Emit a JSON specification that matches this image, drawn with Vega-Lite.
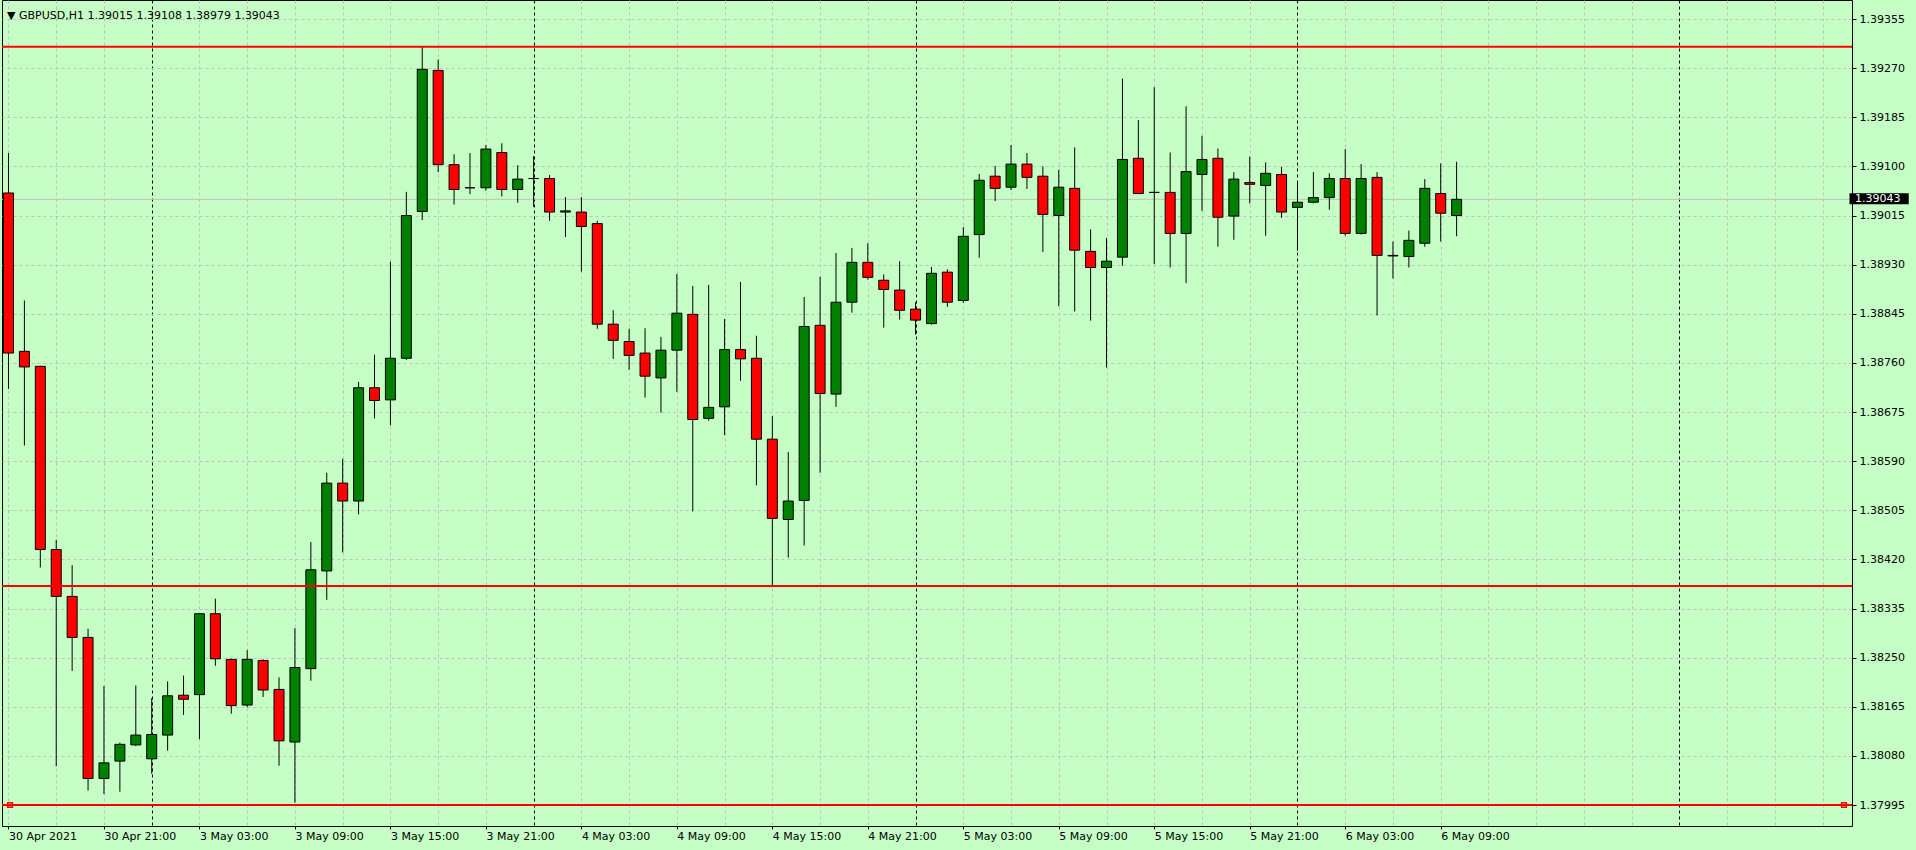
{
  "$schema": "https://vega.github.io/schema/vega-lite/v6.json",
  "width": 1850,
  "height": 826,
  "autosize": {"type": "none"},
  "padding": {"left": 2, "top": 0, "right": 64, "bottom": 24},
  "background": "#c6ffc6",
  "config": {
    "view": {"stroke": "#000000", "strokeWidth": 1, "fill": "#c6ffc6"},
    "font": "DejaVu Sans"
  },
  "title": {
    "text": "▼  GBPUSD,H1  1.39015 1.39108 1.38979 1.39043",
    "anchor": "start",
    "orient": "top",
    "frame": "group",
    "offset": -17,
    "dy": 13,
    "baseline": "alphabetic",
    "dx": 5,
    "font": "DejaVu Sans",
    "fontSize": 11,
    "fontWeight": "normal",
    "color": "#000000"
  },
  "resolve": {"axis": {"x": "independent", "y": "independent"}},
  "datasets": {
    "bars": [
      {"t": "2021.04.30 15:00", "i": 0, "o": 1.39054, "h": 1.39123, "l": 1.38715, "c": 1.38777},
      {"t": "2021.04.30 16:00", "i": 1, "o": 1.38780, "h": 1.38868, "l": 1.38617, "c": 1.38753},
      {"t": "2021.04.30 17:00", "i": 2, "o": 1.38754, "h": 1.38755, "l": 1.38406, "c": 1.38437},
      {"t": "2021.04.30 18:00", "i": 3, "o": 1.38437, "h": 1.38454, "l": 1.38062, "c": 1.38356},
      {"t": "2021.04.30 19:00", "i": 4, "o": 1.38356, "h": 1.38410, "l": 1.38227, "c": 1.38285},
      {"t": "2021.04.30 20:00", "i": 5, "o": 1.38285, "h": 1.38300, "l": 1.38020, "c": 1.38041},
      {"t": "2021.04.30 21:00", "i": 6, "o": 1.38041, "h": 1.38201, "l": 1.38014, "c": 1.38068},
      {"t": "2021.04.30 22:00", "i": 7, "o": 1.38071, "h": 1.38103, "l": 1.38018, "c": 1.38100},
      {"t": "2021.04.30 23:00", "i": 8, "o": 1.38099, "h": 1.38202, "l": 1.38097, "c": 1.38116},
      {"t": "2021.05.03 00:00", "i": 9, "o": 1.38075, "h": 1.38180, "l": 1.38049, "c": 1.38117},
      {"t": "2021.05.03 01:00", "i": 10, "o": 1.38116, "h": 1.38209, "l": 1.38089, "c": 1.38184},
      {"t": "2021.05.03 02:00", "i": 11, "o": 1.38185, "h": 1.38219, "l": 1.38151, "c": 1.38178},
      {"t": "2021.05.03 03:00", "i": 12, "o": 1.38186, "h": 1.38327, "l": 1.38109, "c": 1.38326},
      {"t": "2021.05.03 04:00", "i": 13, "o": 1.38326, "h": 1.38352, "l": 1.38236, "c": 1.38248},
      {"t": "2021.05.03 05:00", "i": 14, "o": 1.38247, "h": 1.38248, "l": 1.38153, "c": 1.38167},
      {"t": "2021.05.03 06:00", "i": 15, "o": 1.38168, "h": 1.38263, "l": 1.38164, "c": 1.38247},
      {"t": "2021.05.03 07:00", "i": 16, "o": 1.38245, "h": 1.38247, "l": 1.38182, "c": 1.38194},
      {"t": "2021.05.03 08:00", "i": 17, "o": 1.38195, "h": 1.38216, "l": 1.38063, "c": 1.38106},
      {"t": "2021.05.03 09:00", "i": 18, "o": 1.38104, "h": 1.38301, "l": 1.37999, "c": 1.38233},
      {"t": "2021.05.03 10:00", "i": 19, "o": 1.38231, "h": 1.38450, "l": 1.38210, "c": 1.38402},
      {"t": "2021.05.03 11:00", "i": 20, "o": 1.38400, "h": 1.38570, "l": 1.38350, "c": 1.38552},
      {"t": "2021.05.03 12:00", "i": 21, "o": 1.38552, "h": 1.38594, "l": 1.38432, "c": 1.38521},
      {"t": "2021.05.03 13:00", "i": 22, "o": 1.38521, "h": 1.38727, "l": 1.38498, "c": 1.38717},
      {"t": "2021.05.03 14:00", "i": 23, "o": 1.38717, "h": 1.38774, "l": 1.38664, "c": 1.38695},
      {"t": "2021.05.03 15:00", "i": 24, "o": 1.38696, "h": 1.38935, "l": 1.38652, "c": 1.38768},
      {"t": "2021.05.03 16:00", "i": 25, "o": 1.38768, "h": 1.39056, "l": 1.38765, "c": 1.39015},
      {"t": "2021.05.03 17:00", "i": 26, "o": 1.39022, "h": 1.39308, "l": 1.39007, "c": 1.39268},
      {"t": "2021.05.03 18:00", "i": 27, "o": 1.39266, "h": 1.39285, "l": 1.39090, "c": 1.39103},
      {"t": "2021.05.03 19:00", "i": 28, "o": 1.39103, "h": 1.39121, "l": 1.39034, "c": 1.39060},
      {"t": "2021.05.03 20:00", "i": 29, "o": 1.39063, "h": 1.39123, "l": 1.39052, "c": 1.39063},
      {"t": "2021.05.03 21:00", "i": 30, "o": 1.39063, "h": 1.39137, "l": 1.39058, "c": 1.39130},
      {"t": "2021.05.03 22:00", "i": 31, "o": 1.39124, "h": 1.39140, "l": 1.39048, "c": 1.39060},
      {"t": "2021.05.03 23:00", "i": 32, "o": 1.39060, "h": 1.39102, "l": 1.39037, "c": 1.39078},
      {"t": "2021.05.04 00:00", "i": 33, "o": 1.39079, "h": 1.39118, "l": 1.39030, "c": 1.39079},
      {"t": "2021.05.04 01:00", "i": 34, "o": 1.39079, "h": 1.39085, "l": 1.39006, "c": 1.39021},
      {"t": "2021.05.04 02:00", "i": 35, "o": 1.39021, "h": 1.39047, "l": 1.38978, "c": 1.39023},
      {"t": "2021.05.04 03:00", "i": 36, "o": 1.39021, "h": 1.39047, "l": 1.38918, "c": 1.38996},
      {"t": "2021.05.04 04:00", "i": 37, "o": 1.39001, "h": 1.39006, "l": 1.38819, "c": 1.38827},
      {"t": "2021.05.04 05:00", "i": 38, "o": 1.38827, "h": 1.38851, "l": 1.38767, "c": 1.38799},
      {"t": "2021.05.04 06:00", "i": 39, "o": 1.38797, "h": 1.38819, "l": 1.38748, "c": 1.38773},
      {"t": "2021.05.04 07:00", "i": 40, "o": 1.38777, "h": 1.38820, "l": 1.38700, "c": 1.38737},
      {"t": "2021.05.04 08:00", "i": 41, "o": 1.38734, "h": 1.38805, "l": 1.38674, "c": 1.38782},
      {"t": "2021.05.04 09:00", "i": 42, "o": 1.38782, "h": 1.38914, "l": 1.38710, "c": 1.38846},
      {"t": "2021.05.04 10:00", "i": 43, "o": 1.38844, "h": 1.38893, "l": 1.38503, "c": 1.38662},
      {"t": "2021.05.04 11:00", "i": 44, "o": 1.38664, "h": 1.38895, "l": 1.38660, "c": 1.38683},
      {"t": "2021.05.04 12:00", "i": 45, "o": 1.38684, "h": 1.38836, "l": 1.38635, "c": 1.38783},
      {"t": "2021.05.04 13:00", "i": 46, "o": 1.38783, "h": 1.38900, "l": 1.38729, "c": 1.38767},
      {"t": "2021.05.04 14:00", "i": 47, "o": 1.38768, "h": 1.38807, "l": 1.38548, "c": 1.38628},
      {"t": "2021.05.04 15:00", "i": 48, "o": 1.38628, "h": 1.38668, "l": 1.38372, "c": 1.38491},
      {"t": "2021.05.04 16:00", "i": 49, "o": 1.38489, "h": 1.38606, "l": 1.38423, "c": 1.38521},
      {"t": "2021.05.04 17:00", "i": 50, "o": 1.38522, "h": 1.38874, "l": 1.38444, "c": 1.38823},
      {"t": "2021.05.04 18:00", "i": 51, "o": 1.38825, "h": 1.38909, "l": 1.38570, "c": 1.38707},
      {"t": "2021.05.04 19:00", "i": 52, "o": 1.38706, "h": 1.38950, "l": 1.38684, "c": 1.38865},
      {"t": "2021.05.04 20:00", "i": 53, "o": 1.38865, "h": 1.38959, "l": 1.38847, "c": 1.38934},
      {"t": "2021.05.04 21:00", "i": 54, "o": 1.38934, "h": 1.38967, "l": 1.38904, "c": 1.38908},
      {"t": "2021.05.04 22:00", "i": 55, "o": 1.38903, "h": 1.38913, "l": 1.38821, "c": 1.38887},
      {"t": "2021.05.04 23:00", "i": 56, "o": 1.38886, "h": 1.38936, "l": 1.38835, "c": 1.38851},
      {"t": "2021.05.05 00:00", "i": 57, "o": 1.38853, "h": 1.38865, "l": 1.38809, "c": 1.38834},
      {"t": "2021.05.05 01:00", "i": 58, "o": 1.38828, "h": 1.38926, "l": 1.38826, "c": 1.38915},
      {"t": "2021.05.05 02:00", "i": 59, "o": 1.38917, "h": 1.38922, "l": 1.38857, "c": 1.38865},
      {"t": "2021.05.05 03:00", "i": 60, "o": 1.38868, "h": 1.38995, "l": 1.38864, "c": 1.38979},
      {"t": "2021.05.05 04:00", "i": 61, "o": 1.38982, "h": 1.39087, "l": 1.38942, "c": 1.39076},
      {"t": "2021.05.05 05:00", "i": 62, "o": 1.39083, "h": 1.39101, "l": 1.39040, "c": 1.39062},
      {"t": "2021.05.05 06:00", "i": 63, "o": 1.39064, "h": 1.39137, "l": 1.39059, "c": 1.39104},
      {"t": "2021.05.05 07:00", "i": 64, "o": 1.39104, "h": 1.39123, "l": 1.39061, "c": 1.39081},
      {"t": "2021.05.05 08:00", "i": 65, "o": 1.39083, "h": 1.39100, "l": 1.38952, "c": 1.39017},
      {"t": "2021.05.05 09:00", "i": 66, "o": 1.39015, "h": 1.39094, "l": 1.38858, "c": 1.39064},
      {"t": "2021.05.05 10:00", "i": 67, "o": 1.39062, "h": 1.39133, "l": 1.38849, "c": 1.38955},
      {"t": "2021.05.05 11:00", "i": 68, "o": 1.38953, "h": 1.38991, "l": 1.38833, "c": 1.38925},
      {"t": "2021.05.05 12:00", "i": 69, "o": 1.38925, "h": 1.38976, "l": 1.38752, "c": 1.38936},
      {"t": "2021.05.05 13:00", "i": 70, "o": 1.38943, "h": 1.39252, "l": 1.38928, "c": 1.39112},
      {"t": "2021.05.05 14:00", "i": 71, "o": 1.39114, "h": 1.39180, "l": 1.39053, "c": 1.39053},
      {"t": "2021.05.05 15:00", "i": 72, "o": 1.39055, "h": 1.39237, "l": 1.38931, "c": 1.39055},
      {"t": "2021.05.05 16:00", "i": 73, "o": 1.39055, "h": 1.39124, "l": 1.38925, "c": 1.38984},
      {"t": "2021.05.05 17:00", "i": 74, "o": 1.38984, "h": 1.39204, "l": 1.38898, "c": 1.39091},
      {"t": "2021.05.05 18:00", "i": 75, "o": 1.39086, "h": 1.39153, "l": 1.39023, "c": 1.39112},
      {"t": "2021.05.05 19:00", "i": 76, "o": 1.39114, "h": 1.39131, "l": 1.38961, "c": 1.39012},
      {"t": "2021.05.05 20:00", "i": 77, "o": 1.39014, "h": 1.39090, "l": 1.38973, "c": 1.39078},
      {"t": "2021.05.05 21:00", "i": 78, "o": 1.39072, "h": 1.39117, "l": 1.39036, "c": 1.39069},
      {"t": "2021.05.05 22:00", "i": 79, "o": 1.39067, "h": 1.39107, "l": 1.38980, "c": 1.39088},
      {"t": "2021.05.05 23:00", "i": 80, "o": 1.39086, "h": 1.39099, "l": 1.39011, "c": 1.39021},
      {"t": "2021.05.06 00:00", "i": 81, "o": 1.39029, "h": 1.39072, "l": 1.38954, "c": 1.39038},
      {"t": "2021.05.06 01:00", "i": 82, "o": 1.39038, "h": 1.39090, "l": 1.39036, "c": 1.39046},
      {"t": "2021.05.06 02:00", "i": 83, "o": 1.39046, "h": 1.39088, "l": 1.39025, "c": 1.39079},
      {"t": "2021.05.06 03:00", "i": 84, "o": 1.39079, "h": 1.39130, "l": 1.38980, "c": 1.38984},
      {"t": "2021.05.06 04:00", "i": 85, "o": 1.38984, "h": 1.39104, "l": 1.38982, "c": 1.39079},
      {"t": "2021.05.06 05:00", "i": 86, "o": 1.39081, "h": 1.39090, "l": 1.38842, "c": 1.38946},
      {"t": "2021.05.06 06:00", "i": 87, "o": 1.38946, "h": 1.38970, "l": 1.38906, "c": 1.38945},
      {"t": "2021.05.06 07:00", "i": 88, "o": 1.38944, "h": 1.38989, "l": 1.38925, "c": 1.38972},
      {"t": "2021.05.06 08:00", "i": 89, "o": 1.38967, "h": 1.39078, "l": 1.38961, "c": 1.39062},
      {"t": "2021.05.06 09:00", "i": 90, "o": 1.39053, "h": 1.39105, "l": 1.38970, "c": 1.39019},
      {"t": "2021.05.06 10:00", "i": 91, "o": 1.39015, "h": 1.39108, "l": 1.38979, "c": 1.39043}
    ],
    "levels": [
      {"name": "resistance", "price": 1.39307},
      {"name": "support", "price": 1.38374},
      {"name": "low", "price": 1.37995}
    ],
    "bid": [{"price": 1.39043, "label": "1.39043"}]
  },
  "layer": [
    {
      "data": {"name": "bid"},
      "mark": {"type": "rule", "color": "#c0c0c0", "strokeWidth": 1},
      "encoding": {
        "y": {"field": "price", "type": "quantitative", "scale": {"domain": [1.379587, 1.393879], "nice": false, "zero": false}, "axis": null}
      }
    },
    {
      "data": {"name": "bars"},
      "mark": {"type": "rule", "color": "#000000", "strokeWidth": 1},
      "encoding": {
        "x": {
          "field": "i", "type": "quantitative",
          "scale": {"domain": [-0.09375, 115.53125], "nice": false, "zero": false},
          "axis": {
            "orient": "bottom",
            "title": null,
            "domain": false,
            "values": [0, 3, 6, 9, 12, 15, 18, 21, 24, 27, 30, 33, 36, 39, 42, 45, 48, 51, 54, 57, 60, 63, 66, 69, 72, 75, 78, 81, 84, 87, 90, 93, 96, 99, 102, 105, 108, 111, 114],
            "grid": true,
            "gridColor": {"condition": {"test": "datum.value % 24 === 9", "value": "#000000"}, "value": "#c0c0c0"},
            "gridDash": [3, 3],
            "gridWidth": 1,
            "ticks": true,
            "tickSize": 3,
            "tickColor": "#000000",
            "tickOpacity": {"condition": {"test": "datum.value % 6 === 0 && datum.value <= 90", "value": 1}, "value": 0},
            "labelExpr": "(datum.value % 6 === 0 && datum.value <= 90) ? ['30 Apr 2021','30 Apr 21:00','3 May 03:00','3 May 09:00','3 May 15:00','3 May 21:00','4 May 03:00','4 May 09:00','4 May 15:00','4 May 21:00','5 May 03:00','5 May 09:00','5 May 15:00','5 May 21:00','6 May 03:00','6 May 09:00'][datum.value / 6] : ''",
            "labelAlign": "left",
            "labelBaseline": "top",
            "labelPadding": 1,
            "labelFont": "DejaVu Sans",
            "labelFontSize": 11,
            "labelColor": "#000000",
            "labelOverlap": false,
            "labelBound": false,
            "labelFlush": false
          }
        },
        "y": {
          "field": "l", "type": "quantitative",
          "scale": {"domain": [1.379587, 1.393879], "nice": false, "zero": false},
          "axis": {
            "title": null,
            "orient": "right",
            "domain": false,
            "values": [1.37995, 1.38080, 1.38165, 1.38250, 1.38335, 1.38420, 1.38505, 1.38590, 1.38675, 1.38760, 1.38845, 1.38930, 1.39015, 1.39100, 1.39185, 1.39270, 1.39355],
            "format": ".5f",
            "grid": true,
            "gridColor": "#c0c0c0",
            "gridDash": [3, 3],
            "tickSize": 4,
            "tickColor": "#000000",
            "labelPadding": 3,
            "labelFont": "DejaVu Sans",
            "labelFontSize": 11,
            "labelColor": "#000000",
            "labelBaseline": "middle",
            "labelOverlap": false,
            "labelBound": false,
            "labelFlush": false
          }
        },
        "y2": {"field": "h"}
      }
    },
    {
      "data": {"name": "bars"},
      "mark": {"type": "bar", "width": 10, "stroke": "#000000", "strokeWidth": 1},
      "encoding": {
        "x": {"field": "i", "type": "quantitative", "axis": null},
        "y": {"field": "o", "type": "quantitative", "axis": null},
        "y2": {"field": "c"},
        "fill": {"condition": {"test": "datum.o > datum.c", "value": "#ff0000"}, "value": "#008000"}
      }
    },
    {
      "data": {"name": "levels"},
      "mark": {"type": "rule", "color": "#ff0000", "strokeWidth": 2},
      "encoding": {
        "y": {"field": "price", "type": "quantitative", "axis": null}
      }
    },
    {
      "data": {"values": [{"price": 1.37995}]},
      "mark": {"type": "point", "shape": "square", "filled": false, "color": "#ff0000", "strokeWidth": 1.5, "size": 22, "opacity": 1},
      "encoding": {
        "x": {"datum": 0.1, "type": "quantitative", "axis": null},
        "y": {"field": "price", "type": "quantitative", "axis": null}
      }
    },
    {
      "data": {"values": [{"price": 1.37995}]},
      "mark": {"type": "point", "shape": "square", "filled": false, "color": "#ff0000", "strokeWidth": 1.5, "size": 22, "opacity": 1},
      "encoding": {
        "x": {"datum": 115.34, "type": "quantitative", "axis": null},
        "y": {"field": "price", "type": "quantitative", "axis": null}
      }
    },
    {
      "data": {"name": "bid"},
      "mark": {"type": "rect", "fill": "#000000"},
      "encoding": {
        "x": {"datum": 115.69, "type": "quantitative", "axis": null},
        "x2": {"datum": 119.41},
        "y": {"datum": 1.390534, "type": "quantitative", "axis": null},
        "y2": {"datum": 1.390343}
      }
    },
    {
      "data": {"name": "bid"},
      "mark": {"type": "text", "align": "left", "baseline": "middle", "font": "DejaVu Sans", "fontSize": 11, "color": "#ffffff"},
      "encoding": {
        "x": {"datum": 116.03, "type": "quantitative", "axis": null},
        "y": {"field": "price", "type": "quantitative", "axis": null},
        "text": {"field": "label"}
      }
    }
  ]
}
